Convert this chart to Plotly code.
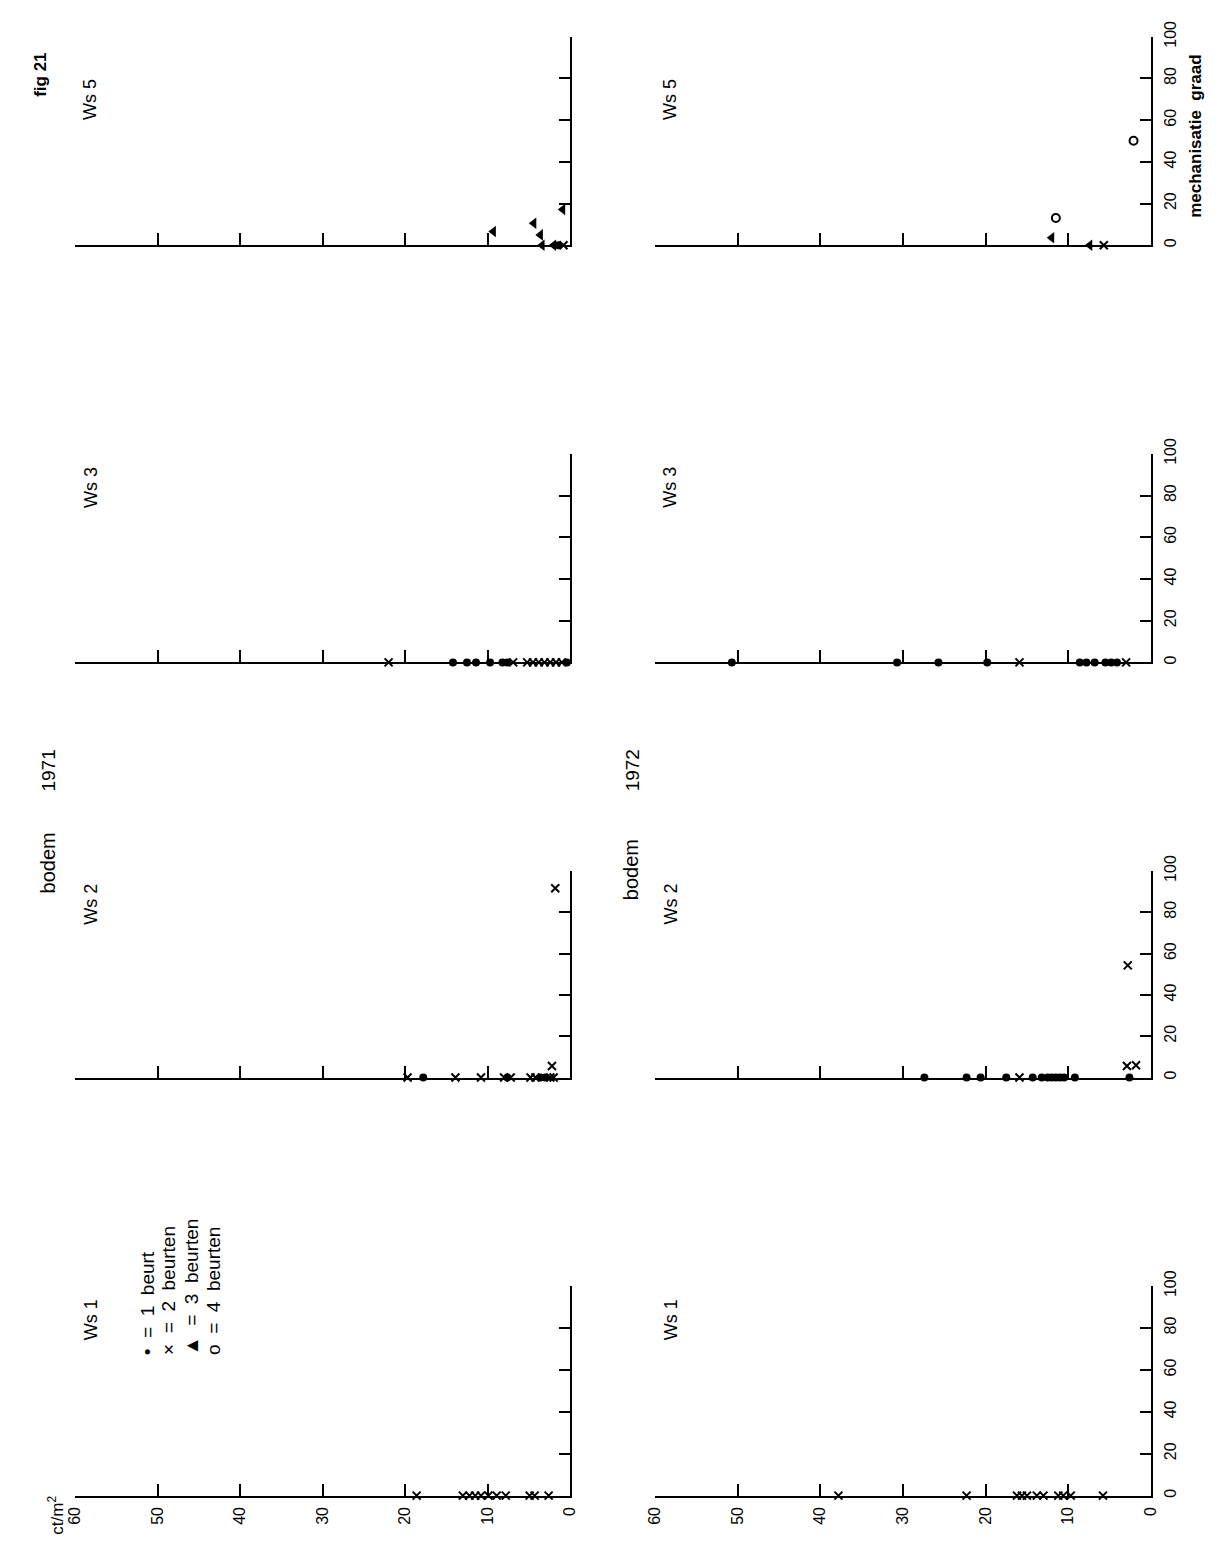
import plotly.graph_objects as go

W, H = 1224, 1548

# ---------------------------------------------------------------- data
YEARS = ["1971", "1972"]
PANELS = ["Ws 1", "Ws 2", "Ws 3", "Ws 5"]

CT_TICKS = [0, 10, 20, 30, 40, 50, 60]          # ct/m2
MECH_TICKS = [0, 20, 40, 60, 80, 100]           # mechanisatie graad

BEURT_TEXT = ["=  1  beurt", "=  2  beurten", "=  3  beurten", "=  4  beurten"]
BEURT_GLYPH = ["\u2022", "\u00d7", "\u25b2", "o"]

# 1971
ws1_1971_ct = [18.6, 13.0, 12.2, 11.5, 10.8, 9.9, 8.9, 7.8, 4.9, 4.3, 2.6]
ws1_1971_mech = [0, 0, 0, 0, 0, 0, 0, 0, 0, 0, 0]
ws1_1971_beurt = [2, 2, 2, 2, 2, 2, 2, 2, 2, 2, 2]

ws2_1971_ct = [19.7, 17.8, 13.9, 10.8, 8.0, 7.6, 7.2, 4.8, 4.2, 3.6, 3.0, 2.4, 2.0, 2.2, 1.8]
ws2_1971_mech = [0, 0, 0, 0, 0, 0, 0, 0, 0, 0, 0, 0, 0, 5.6, 91.6]
ws2_1971_beurt = [2, 1, 2, 2, 2, 1, 2, 2, 2, 1, 1, 2, 2, 2, 2]

ws3_1971_ct = [22.0, 14.2, 12.5, 11.4, 9.7, 8.2, 7.6, 6.9, 5.2, 4.5, 3.8, 3.1, 2.4, 1.7, 1.0, 0.4]
ws3_1971_mech = [0] * 16
ws3_1971_beurt = [2, 1, 1, 1, 1, 1, 1, 2, 2, 2, 2, 2, 2, 2, 2, 1]

ws5_1971_ct = [9.3, 4.4, 3.6, 0.9, 3.4, 2.0, 1.4, 0.8]
ws5_1971_mech = [6.6, 10.6, 5.0, 17.2, 0, 0, 0, 0]
ws5_1971_beurt = [3, 3, 3, 3, 3, 3, 1, 2]

# 1972
ws1_1972_ct = [37.8, 22.3, 16.2, 15.6, 15.0, 13.8, 13.0, 11.2, 10.6, 9.7, 5.8]
ws1_1972_mech = [0] * 11
ws1_1972_beurt = [2] * 11

ws2_1972_ct = [27.4, 22.3, 20.6, 17.5, 15.9, 14.3, 13.2, 12.5, 12.0, 11.5, 11.0, 10.5, 9.2, 2.6, 2.9, 1.8, 2.8]
ws2_1972_mech = [0, 0, 0, 0, 0, 0, 0, 0, 0, 0, 0, 0, 0, 0, 5.6, 5.9, 54.3]
ws2_1972_beurt = [1, 1, 1, 1, 2, 1, 1, 1, 1, 1, 1, 1, 1, 1, 2, 2, 2]

ws3_1972_ct = [50.7, 30.7, 25.7, 19.8, 15.9, 8.6, 7.8, 6.8, 5.5, 4.8, 4.1, 3.0]
ws3_1972_mech = [0] * 12
ws3_1972_beurt = [1, 1, 1, 1, 2, 1, 1, 1, 1, 1, 1, 2]

ws5_1972_ct = [12.0, 11.5, 7.4, 5.7, 2.1]
ws5_1972_mech = [3.6, 13.1, 0, 0, 50.1]
ws5_1972_beurt = [3, 4, 3, 2, 4]

SERIES = {
    ("1971", "Ws 1"): (ws1_1971_ct, ws1_1971_mech, ws1_1971_beurt),
    ("1971", "Ws 2"): (ws2_1971_ct, ws2_1971_mech, ws2_1971_beurt),
    ("1971", "Ws 3"): (ws3_1971_ct, ws3_1971_mech, ws3_1971_beurt),
    ("1971", "Ws 5"): (ws5_1971_ct, ws5_1971_mech, ws5_1971_beurt),
    ("1972", "Ws 1"): (ws1_1972_ct, ws1_1972_mech, ws1_1972_beurt),
    ("1972", "Ws 2"): (ws2_1972_ct, ws2_1972_mech, ws2_1972_beurt),
    ("1972", "Ws 3"): (ws3_1972_ct, ws3_1972_mech, ws3_1972_beurt),
    ("1972", "Ws 5"): (ws5_1972_ct, ws5_1972_mech, ws5_1972_beurt),
}

# ---------------------------------------------------------------- layout geometry (pixels)
X_SPAN = {"1971": (67, 569), "1972": (655, 1158)}
Y_SPAN = {"Ws 1": (1285, 1497), "Ws 2": (865, 1074), "Ws 3": (443, 654), "Ws 5": (21, 232)}
LABEL_MECH = {"Ws 1": 84, "Ws 2": 84, "Ws 3": 84, "Ws 5": 70}

FONT = "Liberation Sans"
INK = "black"

MARKERS = {
    1: dict(symbol="circle", size=8, color=INK),
    2: dict(symbol="x-thin", size=8, color=INK, line=dict(color=INK, width=2)),
    3: dict(symbol="triangle-left", size=10, color=INK),
    4: dict(symbol="circle-open", size=8, color=INK, line=dict(color=INK, width=2)),
}

fig = go.Figure()
layout = {}
annotations = []

k = 0
for year in YEARS:
    for panel in PANELS:
        k += 1
        sfx = "" if k == 1 else str(k)
        xname, yname = "x" + sfx, "y" + sfx
        x0, x1 = X_SPAN[year]
        yt, yb = Y_SPAN[panel]

        layout["xaxis" + sfx] = dict(
            domain=[x0 / W, x1 / W], range=[60, 0], anchor=yname,
            tickvals=CT_TICKS, ticks="inside", ticklen=12, tickwidth=2, tickcolor=INK,
            showline=True, linewidth=2, linecolor=INK, showgrid=False, zeroline=False,
            showticklabels=(panel == "Ws 1"), tickangle=-90, ticklabelstandoff=3,
            tickfont=dict(family=FONT, size=16, color=INK), fixedrange=True,
        )
        layout["yaxis" + sfx] = dict(
            domain=[1 - yb / H, 1 - yt / H], range=[0, 100], anchor=xname, side="right",
            tickvals=MECH_TICKS, ticks="inside", ticklen=11, tickwidth=2, tickcolor=INK,
            showline=True, linewidth=2, linecolor=INK, showgrid=False, zeroline=False,
            showticklabels=(year == "1972"), tickangle=-90, ticklabelstandoff=4,
            tickfont=dict(family=FONT, size=16, color=INK), fixedrange=True,
        )

        ct, mech, beurt = SERIES[(year, panel)]
        for b in (1, 2, 3, 4):
            xs = [c for c, bb in zip(ct, beurt) if bb == b]
            ys = [m for m, bb in zip(mech, beurt) if bb == b]
            if not xs:
                continue
            fig.add_trace(go.Scatter(
                x=xs, y=ys, mode="markers", marker=MARKERS[b],
                xaxis=xname, yaxis=yname, cliponaxis=False, showlegend=False,
                hoverinfo="skip",
            ))

        annotations.append(dict(
            text=panel, x=58.1, y=LABEL_MECH[panel], xref=xname, yref=yname,
            textangle=-90, showarrow=False, xanchor="center", yanchor="middle",
            font=dict(family=FONT, size=18, color=INK),
        ))

        # symbol key inside the first panel
        if year == "1971" and panel == "Ws 1":
            key_ct = [51.3, 48.6, 45.9, 43.2]
            for glyph, txt, c in zip(BEURT_GLYPH, BEURT_TEXT, key_ct):
                annotations.append(dict(
                    text=(glyph + "  " + txt).replace(" ", "\u00a0"),
                    x=c, y=66, xref=xname, yref=yname, textangle=-90, showarrow=False,
                    xanchor="center", yanchor="bottom",
                    font=dict(family=FONT, size=19, color=INK),
                ))

# page-level texts (pixel positions converted to paper fractions)
def paper_text(text, px, py, size=18, bold=False):
    if bold:
        text = "<b>" + text + "</b>"
    annotations.append(dict(
        text=text, x=px / W, y=1 - py / H, xref="paper", yref="paper",
        textangle=-90, showarrow=False, xanchor="center", yanchor="middle",
        font=dict(family=FONT, size=size, color=INK),
    ))

paper_text("fig 21", 32, 60, size=17, bold=True)
paper_text("bodem", 40, 857, size=20)
paper_text("1971", 40, 763, size=19)
paper_text("bodem", 631, 864, size=20)
paper_text("1972", 632, 763, size=19)
paper_text("ct/m<sup>2</sup>", 48, 1517, size=17)
paper_text("mechanisatie  graad".replace(" ", "\u00a0"), 1203, 122, size=17, bold=True)

fig.update_layout(
    width=W, height=H, autosize=False,
    margin=dict(l=0, r=0, t=0, b=0, pad=0),
    paper_bgcolor="white", plot_bgcolor="white",
    showlegend=False, annotations=annotations,
    **layout,
)

fig.write_html("out.html")
